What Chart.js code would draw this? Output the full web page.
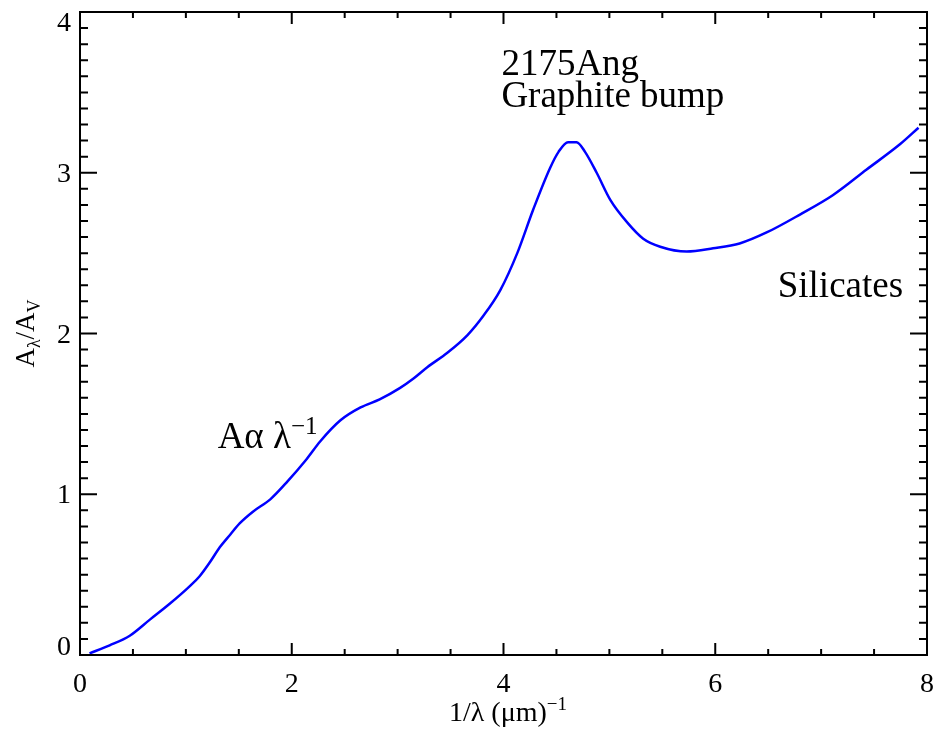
<!DOCTYPE html>
<html>
<head>
<meta charset="utf-8">
<script src="https://cdn.jsdelivr.net/npm/chart.js@4.4.1/dist/chart.umd.min.js"></script>
<style>
  html, body { margin: 0; padding: 0; background: #fff; }
</style>
</head>
<body>
<canvas id="extincion" width="939" height="730"></canvas>
<script>
// curva de extinción
const invLambda = [0.09, 0.28, 0.47, 0.66, 0.85, 1.04, 1.13, 1.23, 1.32, 1.42, 1.51, 1.63, 1.80, 1.96,
  2.13, 2.27, 2.46, 2.65, 2.83, 3.02, 3.15, 3.28, 3.47, 3.66, 3.81, 3.97, 4.13, 4.28, 4.44, 4.52,
  4.61, 4.69, 4.77, 4.88, 5.01, 5.17, 5.32, 5.48, 5.73, 5.98, 6.23, 6.49, 6.80, 7.11, 7.43, 7.75, 7.92];
const extinction = [0.01, 0.06, 0.12, 0.22, 0.32, 0.43, 0.49, 0.58, 0.67, 0.75, 0.82, 0.89, 0.97, 1.08,
  1.21, 1.33, 1.46, 1.54, 1.59, 1.66, 1.72, 1.79, 1.88, 1.99, 2.11, 2.27, 2.50, 2.77, 3.03, 3.13,
  3.19, 3.19, 3.13, 3.00, 2.83, 2.69, 2.59, 2.54, 2.51, 2.53, 2.56, 2.63, 2.74, 2.86, 3.02, 3.18, 3.28];

const xTicks = [0, 2, 4, 6, 8];
const yTicks = [0, 1, 2, 3, 4];
const xTickLabels = ['0', '2', '4', '6', '8'];
const yTickLabels = ['0', '1', '2', '3', '4'];

const SERIF = '"Liberation Serif", "DejaVu Serif", serif';

// texto con subíndices / superíndices
function drawRich(ctx, parts, x, y, size, align) {
  const small = Math.round(size * 0.68);
  let total = 0;
  parts.forEach(p => {
    ctx.font = (p.sub || p.sup ? small : size) + 'px ' + SERIF;
    total += ctx.measureText(p.t).width;
  });
  let cx = align === 'center' ? x - total / 2 : x;
  ctx.textAlign = 'left';
  ctx.textBaseline = 'alphabetic';
  parts.forEach(p => {
    ctx.font = (p.sub || p.sup ? small : size) + 'px ' + SERIF;
    let dy = 0;
    if (p.sub) dy = size * 0.22;
    if (p.sup) dy = -size * 0.38;
    ctx.fillText(p.t, cx, y + dy);
    cx += ctx.measureText(p.t).width;
  });
}

const marco = {
  id: 'marco',
  afterDatasetsDraw(chart) {
    const { ctx, chartArea: a, scales: { x, y } } = chart;
    ctx.save();
    ctx.strokeStyle = '#000';
    ctx.fillStyle = '#000';
    ctx.lineWidth = 2;
    ctx.lineCap = 'butt';
    ctx.strokeRect(a.left, a.top, a.right - a.left, a.bottom - a.top);

    ctx.beginPath();
    for (let i = 0; i <= 16; i++) {
      const px = x.getPixelForValue(i * 0.5);
      const len = i % 4 === 0 ? 12 : 6;
      ctx.moveTo(px, a.bottom); ctx.lineTo(px, a.bottom - len);
      ctx.moveTo(px, a.top); ctx.lineTo(px, a.top + len);
    }
    for (let i = 0; i <= 40; i++) {
      const py = y.getPixelForValue(i * 0.1);
      const len = i % 10 === 0 ? 17 : 8;
      ctx.moveTo(a.left, py); ctx.lineTo(a.left + len, py);
      ctx.moveTo(a.right, py); ctx.lineTo(a.right - len, py);
    }
    ctx.stroke();

    ctx.font = '28px ' + SERIF;
    ctx.textAlign = 'center';
    ctx.textBaseline = 'alphabetic';
    xTicks.forEach((v, i) => {
      ctx.fillText(xTickLabels[i], x.getPixelForValue(v), a.bottom + 37);
    });
    ctx.textAlign = 'right';
    yTicks.forEach((v, i) => {
      let base = y.getPixelForValue(v) + 9;
      base = Math.min(a.bottom, Math.max(a.top + 19, base));
      ctx.fillText(yTickLabels[i], a.left - 9, base);
    });

    // títulos de ejes
    drawRich(ctx, [{ t: '1/λ (μm)' }, { t: '−1', sup: true }], 508, 721, 28, 'center');
    ctx.save();
    ctx.translate(34, (a.top + a.bottom) / 2);
    ctx.rotate(-Math.PI / 2);
    drawRich(ctx, [{ t: 'A' }, { t: 'λ', sub: true }, { t: '/A' }, { t: 'V', sub: true }], 0, 0, 27, 'center');
    ctx.restore();

    // anotaciones
    drawRich(ctx, [{ t: 'Aα λ' }, { t: '−1', sup: true }], x.getPixelForValue(1.30), y.getPixelForValue(1.29), 37);
    drawRich(ctx, [{ t: '2175Ang' }], x.getPixelForValue(3.98), y.getPixelForValue(3.61), 37);
    drawRich(ctx, [{ t: 'Graphite bump' }], x.getPixelForValue(3.98), y.getPixelForValue(3.41), 37);
    drawRich(ctx, [{ t: 'Silicates' }], x.getPixelForValue(6.59), y.getPixelForValue(2.23), 37);
    ctx.restore();
  }
};

new Chart(document.getElementById('extincion'), {
  type: 'line',
  data: {
    datasets: [{
      data: invLambda.map((v, i) => ({ x: v, y: extinction[i] })),
      borderColor: '#0000ff',
      borderWidth: 2.5,
      pointRadius: 0,
      cubicInterpolationMode: 'monotone',
      fill: false
    }]
  },
  options: {
    responsive: false,
    animation: false,
    layout: { padding: { left: 80, right: 12, top: 12, bottom: 75 } },
    plugins: { legend: { display: false }, tooltip: { enabled: false } },
    scales: {
      x: { type: 'linear', min: 0, max: 8, display: false },
      y: { type: 'linear', min: 0, max: 4, display: false }
    }
  },
  plugins: [marco]
});
</script>
</body>
</html>
